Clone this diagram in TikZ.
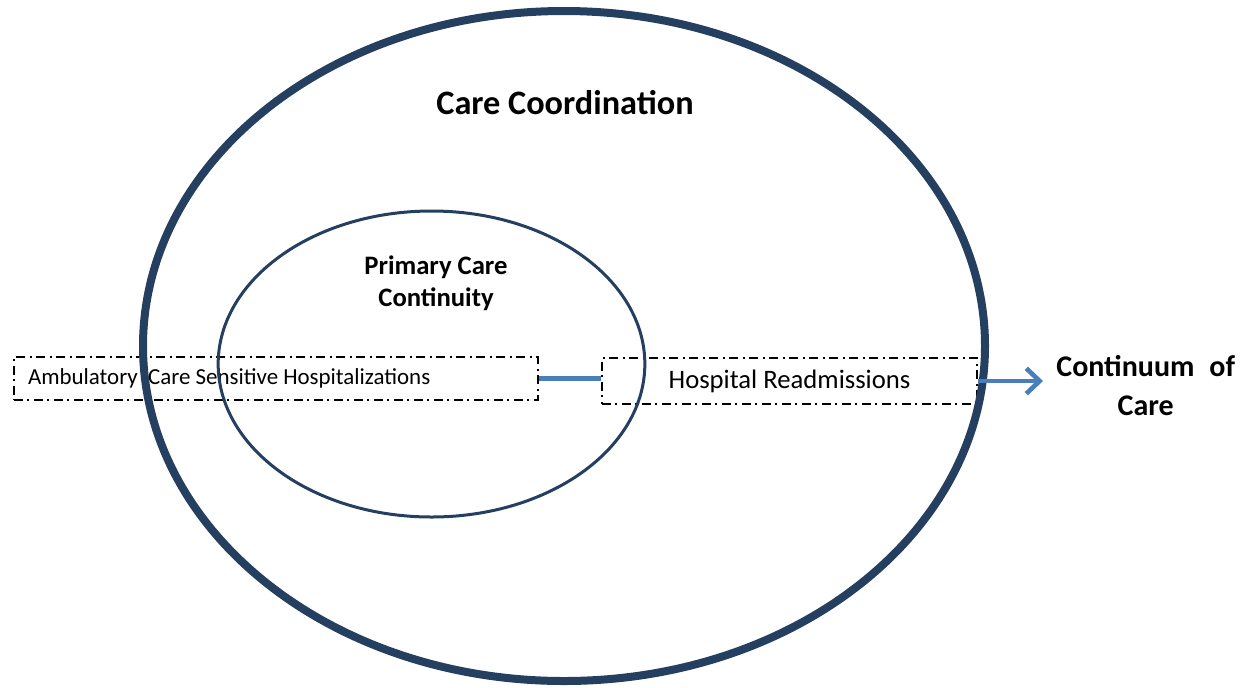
\documentclass[tikz,border=0pt]{standalone}
\usepackage{fontspec}
\setmainfont{Carlito}
\usepackage{tikz}
\usetikzlibrary{arrows.meta, positioning, shapes.geometric}

\definecolor{ringnavy}{HTML}{243F60}
\definecolor{linkblue}{HTML}{4A7EBB}

\begin{document}
\begin{tikzpicture}[x=0.75pt,y=-0.75pt,
        ring/.style={ellipse,draw=ringnavy,inner sep=0pt},
        measure/.style={rectangle,draw=black,line width=2pt,
            dash pattern=on 6.5pt off 3.5pt on 1.5pt off 3.5pt},
        link/.style={draw=linkblue,line width=3.5pt},
        heading/.style 2 args={font=\bfseries\fontsize{#1}{#2}\selectfont,align=flush center}]

    \useasboundingbox (0,0) rectangle (1244,687);

    % the two measures sit under the rings
    \node[measure,text width=372pt,inner xsep=10.5pt,minimum height=32.25pt,
          align=flush left,font=\fontsize{17.2}{20}\selectfont]
          (acsh) at (276,378.5) {Ambulatory\ \ Care Sensitive Hospitalizations};
    \node[measure,minimum width=281.25pt,minimum height=34.5pt,
          font=\fontsize{20}{24}\selectfont]
          (readm) at (789.5,381) {Hospital Readmissions};

    % rings
    \node[ring,line width=6pt,minimum width=631.5pt,minimum height=502.5pt] (coord) at (564,346) {};
    \node[ring,line width=2.25pt,minimum width=320pt,minimum height=229.5pt] (primary) at (431.5,364) {};

    \node[heading={25.7}{30}] (coordlbl) at (565,103) {Care Coordination};
    \node[heading={20}{24}] (primarylbl) at (436,283) {Primary Care\\Continuity};
    \node[heading={22.5}{29},right=55pt of readm.east,yshift=-3.5pt] (cont) {Continuum\hspace{0.5em}of\\Care};

    % links between measures
    \draw[link] (acsh.east) -- (acsh.east -| readm.west);
    \draw[link,-{Straight Barb[length=10pt,width=19pt]},shorten >=6.5pt]
        (readm.east) -- (readm.east -| cont.west);

\end{tikzpicture}
\end{document}
